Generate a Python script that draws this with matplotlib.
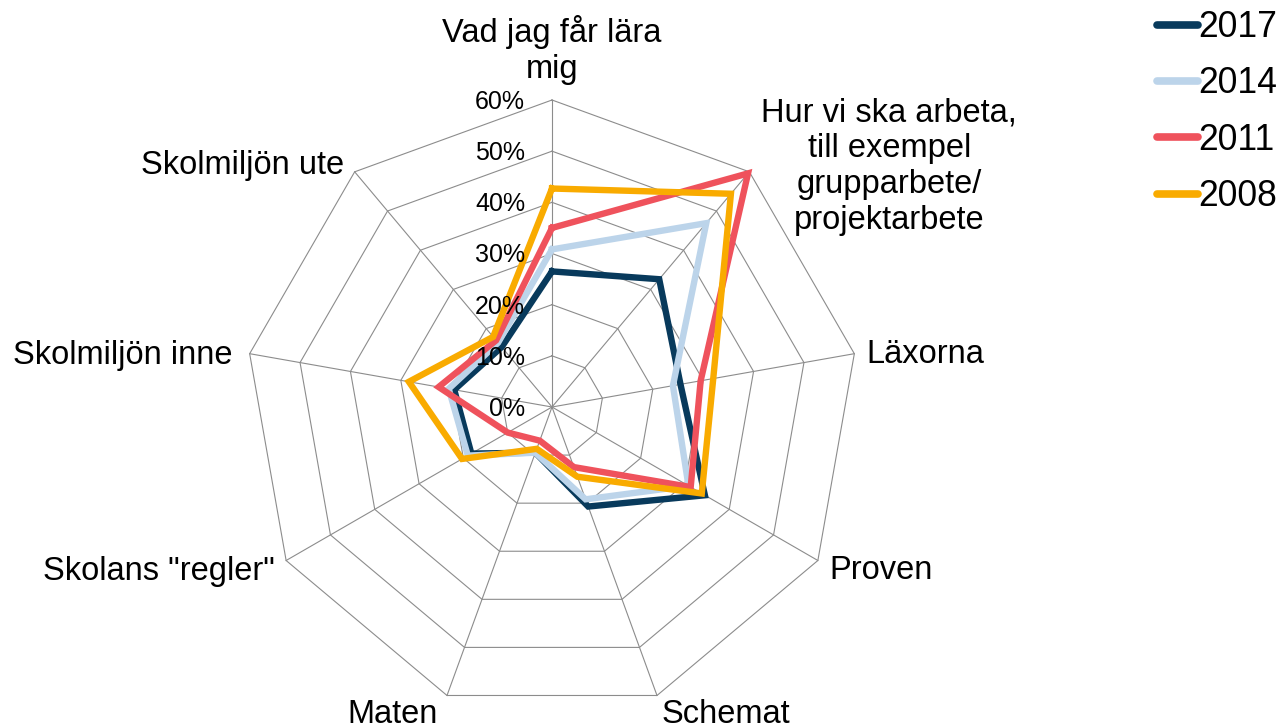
import numpy as np
import matplotlib
matplotlib.use("Agg")
import matplotlib.pyplot as plt
from matplotlib.lines import Line2D

plt.rcParams['font.family'] = ['Liberation Sans', 'DejaVu Sans']

categories = ["Vad jag får lära\nmig",
              "Hur vi ska arbeta,\ntill exempel\ngrupparbete/\nprojektarbete",
              "Läxorna", "Proven", "Schemat", "Maten",
              'Skolans "regler"', "Skolmiljön inne", "Skolmiljön ute"]
years = ["2017", "2014", "2011", "2008"]
v2017 = [26.5, 32.6, 25.5, 34.5, 20.7, 9.5, 18.2, 19.4, 15.3]
v2014 = [30.8, 46.9, 24.0, 30.8, 19.2, 9.5, 19.0, 20.5, 16.4]
v2011 = [35.0, 59.6, 29.5, 31.3, 12.5, 7.0, 10.0, 22.5, 17.0]
v2008 = [42.7, 54.4, 32.0, 33.8, 14.5, 8.7, 20.3, 28.4, 17.9]
tick_values = [0, 10, 20, 30, 40, 50, 60]
tick_labels = ["0%", "10%", "20%", "30%", "40%", "50%", "60%"]

series = [v2017, v2014, v2011, v2008]
colors = ["#083a5c", "#bcd4ea", "#ef525c", "#f9ab00"]

W, H = 1285, 725
fig = plt.figure(figsize=(W / 100, H / 100), dpi=100)
cx, cy, R = 552, 407, 307
ax = fig.add_axes([(cx - R) / W, 1 - (cy + R) / H, 2 * R / W, 2 * R / H],
                  projection='polar')
ax.set_theta_zero_location('N')
ax.set_theta_direction(-1)
ax.set_ylim(0, 60)
ax.set_xticks([])
ax.set_yticks([])
ax.grid(False)
ax.spines['polar'].set_visible(False)

n = len(categories)
angles = np.arange(n) * 2 * np.pi / n
closed = np.concatenate([angles, angles[:1]])

grid_color = "#8c8c8c"
for r in tick_values[1:]:
    ax.plot(closed, [r] * (n + 1), color=grid_color, lw=0.8, clip_on=False, zorder=1)
for a in angles:
    ax.plot([a, a], [0, tick_values[-1]], color=grid_color, lw=0.8, clip_on=False, zorder=1)

for vals, col in zip(series, colors):
    ax.plot(closed, list(vals) + [vals[0]], color=col, lw=4.6, clip_on=False,
            solid_joinstyle='miter', zorder=3)

for v, lab in zip(tick_values, tick_labels):
    ax.annotate(lab, xy=(0, v), xytext=(-27, -2), textcoords='offset pixels',
                ha='right', va='center', fontsize=18, color='black', zorder=4)

# category label placement: (offset x, offset y, ha, va)
placements = [
    (0, 15, 'center', 'bottom'),
    (140, 5, 'center', 'center'),
    (12, -1, 'left', 'center'),
    (12, -10, 'left', 'center'),
    (5, -4, 'left', 'top'),
    (-9, -4, 'right', 'top'),
    (-11, -11, 'right', 'center'),
    (-17, -2, 'right', 'center'),
    (-11, 6, 'right', 'center'),
]
for a, lab, (dx, dy, ha, va) in zip(angles, categories, placements):
    ax.annotate(lab, xy=(a, tick_values[-1]), xytext=(dx, dy),
                textcoords='offset pixels', ha=ha, va=va, fontsize=23.5,
                multialignment='center', annotation_clip=False)

handles = [Line2D([0], [0], color=c, lw=5.5, solid_capstyle='round') for c in colors]
fig.legend(handles, years, loc='upper left', bbox_to_anchor=(1157 / W, 1 - 10 / H),
           frameon=False, fontsize=25.6, handlelength=1.15, handletextpad=0.02,
           labelspacing=0.6, borderpad=0, borderaxespad=0)

fig.savefig("out.png", dpi=100)
